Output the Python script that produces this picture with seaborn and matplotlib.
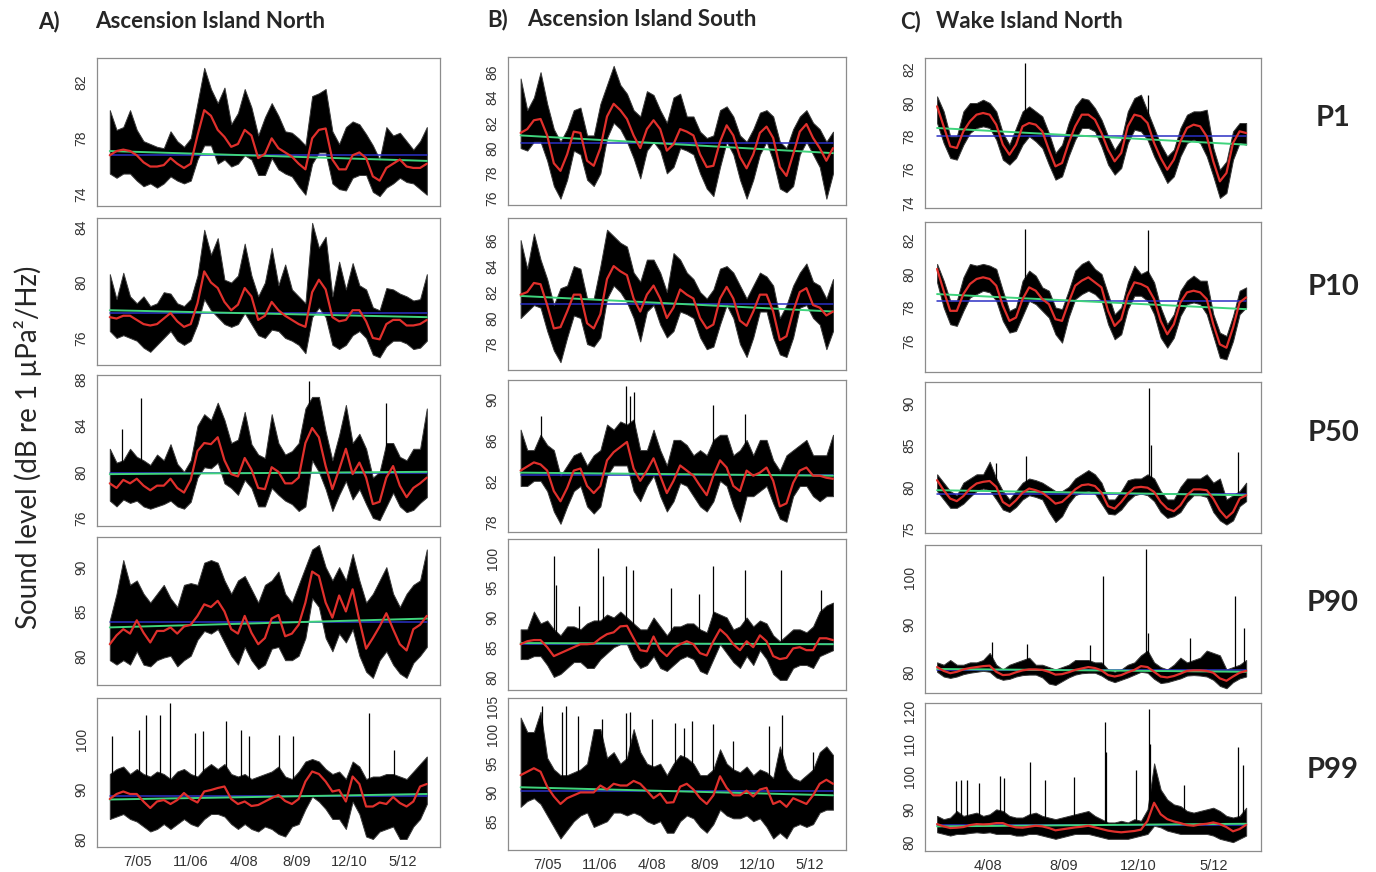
import numpy as np
import matplotlib
matplotlib.use("Agg")
import matplotlib.pyplot as plt
import seaborn as sns

sns.set_style("white")
plt.rcParams["font.family"] = ["Liberation Sans", "DejaVu Sans"]

W, H = 1376, 872

# --- time axes (decimal years) ---
asc_span = (2004.79, 2012.97)
wake_span = (2007.32, 2012.95)
asc_xlim = (2004.46, 2013.31)
wake_xlim = (2007.10, 2013.22)
asc_ticks = [2005.50, 2006.87, 2008.24, 2009.61, 2010.98, 2012.35]
asc_ticklabels = ["7/05", "11/06", "4/08", "8/09", "12/10", "5/12"]
wake_ticks = [2008.25, 2009.62, 2010.98, 2012.35]
wake_ticklabels = ["4/08", "8/09", "12/10", "5/12"]
n_pts = 48

col_titles = ["Ascension Island North", "Ascension Island South", "Wake Island North"]
col_letters = ["A)", "B)", "C)"]
row_names = ["P1", "P10", "P50", "P90", "P99"]

# --- Ascension Island North ---
A1_mid = [76.8, 77.1, 77.2, 77.1, 76.8, 76.3, 76.0, 76.0, 76.1, 76.6,
          76.2, 75.9, 76.2, 78.2, 80.0, 79.6, 78.6, 78.1, 77.4, 77.6,
          78.6, 78.2, 76.6, 76.9, 78.0, 77.3, 77.0, 76.7, 76.2, 75.8,
          78.0, 78.6, 78.7, 76.5, 75.8, 75.8, 76.8, 77.0, 76.6, 75.3,
          75.0, 75.9, 76.2, 76.5, 76.0, 75.9, 75.9, 76.2]
A1_hi = [80.0, 78.6, 78.8, 80.0, 78.6, 77.8, 77.6, 77.4, 77.3, 78.5,
         77.8, 77.4, 78.0, 80.5, 83.0, 81.5, 80.5, 81.6, 79.0, 79.8,
         81.5, 80.2, 78.2, 79.5, 80.5, 79.6, 78.5, 78.4, 78.0, 77.5,
         81.0, 81.2, 81.5, 78.5, 77.6, 78.8, 79.2, 79.0, 78.3, 77.5,
         76.5, 78.8, 78.2, 78.4, 77.8, 77.2, 77.8, 78.8]
A1_lo = [75.5, 75.2, 75.5, 75.5, 75.0, 74.6, 74.8, 74.5, 74.8, 75.3,
         75.0, 74.8, 75.0, 76.5, 77.5, 77.5, 76.2, 76.5, 76.0, 76.2,
         76.8, 76.5, 75.4, 75.4, 76.6, 75.8, 75.5, 75.3, 74.6, 74.0,
         76.2, 77.0, 77.0, 74.8, 74.4, 74.3, 75.2, 75.4, 75.4, 74.2,
         73.9, 74.5, 74.8, 75.2, 74.9, 74.8, 74.4, 74.0]
A1_spk_i, A1_spk_v = [], []
A1_green, A1_blue = [77.1, 76.4], 76.85

A2_mid = [77.5, 77.4, 77.6, 77.6, 77.3, 77.0, 76.9, 77.0, 77.4, 77.8,
          77.2, 76.8, 77.0, 78.5, 80.8, 80.0, 79.6, 78.6, 78.0, 78.4,
          79.6, 79.0, 77.3, 77.6, 78.6, 78.0, 77.6, 77.3, 77.0, 76.8,
          79.3, 80.2, 79.5, 77.5, 77.2, 77.3, 78.0, 78.0, 77.2, 76.0,
          75.9, 77.0, 77.3, 77.3, 76.9, 76.9, 77.0, 77.3]
A2_hi = [80.6, 78.8, 80.7, 79.0, 78.5, 79.0, 78.3, 78.5, 79.3, 79.2,
         78.5, 78.3, 78.8, 80.5, 83.8, 82.0, 83.2, 80.2, 80.0, 80.5,
         82.8, 80.5, 79.0, 80.0, 82.5, 79.8, 81.3, 79.5, 79.0, 78.5,
         84.3, 82.5, 83.3, 79.0, 81.5, 79.5, 81.4, 79.8, 79.5, 78.2,
         78.0, 79.6, 79.5, 79.2, 79.0, 78.7, 78.8, 80.6]
A2_lo = [76.5, 76.0, 76.2, 76.0, 75.8, 75.3, 75.0, 75.5, 76.0, 76.5,
         75.8, 75.5, 75.8, 77.0, 78.8, 78.0, 77.5, 77.0, 76.8, 77.0,
         77.8, 77.0, 76.2, 76.0, 76.6, 76.5, 76.0, 75.8, 75.5, 74.9,
         77.5, 78.2, 77.5, 75.5, 75.2, 75.5, 76.2, 76.5, 76.0, 74.8,
         74.6, 75.4, 75.8, 75.8, 75.6, 75.2, 75.3, 75.8]
A2_spk_i, A2_spk_v = [], []
A2_green, A2_blue = [78.0, 77.5], 77.8

A3_mid = [79.0, 78.6, 79.3, 79.0, 79.4, 78.8, 78.4, 78.8, 78.8, 79.4,
          78.6, 78.2, 79.3, 81.8, 82.5, 82.4, 83.0, 81.0, 79.8, 79.6,
          81.2, 80.2, 78.6, 78.5, 80.4, 80.0, 79.0, 79.0, 79.5, 82.5,
          83.8, 83.0, 80.5, 78.5, 80.2, 82.0, 79.8, 80.8, 79.5, 77.2,
          77.4, 79.5, 80.5, 78.8, 77.8, 78.6, 79.0, 79.5]
A3_hi = [82.0, 80.8, 81.0, 82.0, 81.3, 81.0, 80.6, 81.5, 81.0, 82.4,
         80.7, 80.0, 81.0, 84.0, 85.0, 84.5, 86.0, 84.5, 82.5, 82.8,
         85.2, 82.4, 81.5, 81.2, 85.0, 82.5, 81.5, 81.8, 82.5, 85.5,
         86.5, 86.5, 83.5, 81.0, 83.2, 85.8, 82.5, 83.3, 82.0, 79.5,
         80.0, 82.5, 82.5, 81.3, 81.0, 82.0, 82.0, 85.5]
A3_lo = [77.5, 77.0, 77.6, 77.3, 77.5, 77.0, 76.8, 77.0, 77.2, 77.5,
         77.0, 76.8, 77.4, 79.5, 80.4, 80.3, 80.8, 79.0, 78.6, 78.0,
         79.3, 78.6, 77.0, 77.0, 78.6, 78.0, 77.5, 77.2, 76.6, 77.0,
         81.0, 80.0, 78.5, 76.6, 78.0, 79.2, 77.6, 78.5, 77.2, 76.0,
         75.8, 77.0, 78.2, 77.0, 76.5, 76.7, 77.3, 77.8]
A3_spk_i, A3_spk_v = [1.8, 4.6, 29.6, 41.0], [83.7, 86.4, 87.9, 86.0]
A3_green, A3_blue = [79.8, 80.0], 79.9

A4_mid = [81.3, 82.3, 83.0, 82.5, 84.0, 82.6, 81.5, 82.8, 82.8, 83.2,
          82.5, 83.3, 83.5, 84.5, 85.8, 85.5, 86.2, 85.0, 83.0, 82.5,
          84.5, 82.6, 81.3, 82.0, 84.2, 84.6, 82.2, 82.5, 83.5, 86.0,
          89.5, 89.0, 86.0, 84.3, 86.8, 85.0, 87.5, 84.0, 80.8, 82.0,
          83.3, 84.8, 83.0, 81.3, 80.6, 83.0, 83.5, 84.5]
A4_hi = [84.0, 87.0, 90.8, 88.0, 88.5, 87.0, 86.0, 87.0, 88.0, 86.5,
         85.5, 88.0, 88.2, 88.0, 90.5, 90.8, 90.5, 88.5, 87.0, 88.5,
         89.0, 87.5, 86.0, 88.0, 88.5, 89.5, 87.0, 86.0, 88.0, 90.0,
         92.0, 92.5, 90.0, 88.5, 90.0, 88.5, 91.5, 88.5, 86.0, 87.0,
         88.5, 90.0, 87.0, 85.5, 87.0, 88.0, 88.5, 92.0]
A4_lo = [79.5, 79.0, 79.5, 79.0, 80.5, 79.0, 78.8, 79.5, 79.8, 80.0,
         78.8, 79.5, 80.0, 81.8, 82.8, 82.5, 83.0, 81.5, 80.0, 79.0,
         81.0, 79.5, 78.5, 79.0, 80.8, 81.0, 79.5, 79.5, 80.0, 82.0,
         86.5, 85.5, 82.0, 80.5, 82.5, 81.5, 83.0, 80.0, 78.2, 77.5,
         79.5, 80.5, 79.0, 78.0, 77.5, 79.2, 80.0, 81.0]
A4_spk_i, A4_spk_v = [], []
A4_green, A4_blue = [83.2, 84.2], 83.8

A5_mid = [88.0, 89.0, 89.5, 89.0, 89.0, 87.5, 86.2, 87.5, 87.8, 87.0,
          87.8, 89.2, 88.0, 87.3, 89.5, 89.8, 90.2, 90.5, 88.0, 87.0,
          87.5, 86.6, 86.8, 87.5, 88.2, 88.8, 87.6, 87.0, 88.0, 91.5,
          93.5, 93.0, 91.5, 89.5, 89.8, 87.5, 92.5, 91.0, 86.5, 86.5,
          87.3, 87.0, 88.4, 87.2, 86.5, 87.5, 90.5, 91.0]
A5_hi = [93.0, 94.0, 94.5, 93.0, 94.0, 93.0, 92.5, 93.5, 93.0, 92.0,
         93.5, 94.0, 93.0, 92.5, 94.0, 95.0, 94.0, 95.0, 93.0, 92.5,
         93.0, 92.0, 92.5, 93.0, 93.5, 94.5, 92.5, 92.0, 93.5, 95.5,
         96.0, 95.5, 94.0, 93.0, 93.5, 92.0, 95.5, 94.5, 92.0, 92.5,
         92.5, 93.0, 93.0, 92.5, 92.0, 93.5, 95.0, 96.5]
A5_lo = [84.0, 84.5, 85.0, 84.0, 83.5, 82.5, 81.5, 82.0, 83.0, 82.0,
         83.0, 84.0, 83.0, 82.5, 84.0, 85.0, 85.0, 84.5, 83.0, 82.0,
         83.0, 82.0, 81.5, 82.5, 82.0, 81.0, 80.5, 82.5, 83.0, 86.0,
         88.5, 87.5, 86.0, 84.0, 84.0, 82.0, 87.5, 85.0, 80.5, 80.0,
         81.5, 82.0, 82.5, 80.0, 80.0, 82.5, 84.0, 87.0]
A5_spk_i = [0.4, 4.4, 5.3, 7.5, 8.9, 12.7, 13.8, 17.2, 19.5, 20.6, 25.1, 27.1, 38.4, 42.1]
A5_spk_v = [100.5, 101.8, 104.8, 104.8, 107.2, 101.2, 101.5, 103.5, 101.8, 100.5,
            100.8, 100.5, 105.2, 97.8]
A5_green, A5_blue = [87.9, 89.0], 88.6

# --- Ascension Island South ---
B1_mid = [81.2, 81.5, 82.2, 82.3, 81.0, 78.8, 78.2, 79.5, 81.3, 81.2,
          79.0, 78.6, 80.0, 82.5, 83.5, 83.0, 82.3, 81.0, 80.0, 81.5,
          82.2, 81.5, 79.8, 80.3, 81.5, 81.3, 81.0, 79.5, 78.5, 78.6,
          80.5, 81.8, 81.0, 79.3, 78.4, 79.5, 81.2, 81.7, 80.8, 78.5,
          77.8, 79.5, 81.3, 81.9, 80.8, 80.0, 79.0, 80.0]
B1_hi = [85.5, 83.0, 84.0, 86.0, 83.5, 81.5, 80.5, 81.5, 83.0, 83.2,
         81.0, 81.0, 83.5, 85.0, 86.5, 85.0, 84.3, 83.0, 82.5, 84.5,
         84.2, 83.0, 82.0, 84.0, 84.3, 82.5, 82.5, 81.3, 80.8, 81.0,
         83.0, 83.3, 82.5, 81.0, 80.5, 81.5, 82.8, 83.0, 82.5, 80.5,
         80.0, 81.5, 82.5, 83.0, 82.0, 81.5, 80.5, 81.3]
B1_lo = [80.0, 79.8, 80.5, 80.5, 79.0, 77.0, 76.0, 77.5, 79.8, 79.5,
         77.5, 77.0, 78.0, 80.8, 82.0, 81.5, 80.5, 79.2, 77.6, 79.8,
         80.5, 79.8, 78.0, 78.5, 80.0, 79.8, 79.5, 78.0, 76.8, 76.2,
         78.5, 80.5, 79.5, 77.5, 76.0, 77.5, 79.5, 80.5, 79.0, 76.8,
         76.5, 77.0, 79.5, 80.5, 79.5, 78.5, 76.0, 78.0]
B1_spk_i, B1_spk_v = [], []
B1_green, B1_blue = [81.0, 79.6], 80.4

B2_mid = [81.8, 82.0, 82.7, 82.6, 81.0, 79.2, 79.3, 80.5, 81.8, 81.8,
          79.6, 79.2, 80.3, 83.0, 84.0, 83.6, 83.3, 81.5, 80.5, 81.8,
          82.5, 81.5, 80.0, 80.8, 82.2, 81.8, 81.5, 80.0, 79.2, 79.5,
          81.5, 82.4, 81.5, 79.8, 79.4, 80.5, 81.8, 81.8, 80.5, 78.3,
          78.6, 80.5, 82.0, 82.3, 81.0, 80.8, 80.2, 80.5]
B2_hi = [86.0, 83.8, 86.5, 84.5, 83.0, 81.0, 82.3, 82.5, 84.0, 83.8,
         81.5, 81.5, 84.0, 86.8, 86.3, 85.8, 85.5, 83.5, 82.8, 84.5,
         84.5, 83.5, 82.0, 85.0, 84.5, 83.5, 83.0, 82.0, 81.5, 82.2,
         83.8, 84.0, 83.5, 82.5, 81.5, 82.5, 83.5, 83.2, 82.5, 80.0,
         81.0, 82.5, 83.5, 84.2, 82.8, 82.5, 81.5, 83.0]
B2_lo = [80.0, 80.5, 81.0, 80.8, 79.0, 77.5, 76.6, 78.5, 80.2, 80.0,
         78.0, 77.8, 78.5, 81.5, 82.5, 82.0, 81.2, 80.0, 78.2, 80.5,
         81.0, 79.5, 78.5, 79.0, 80.5, 80.3, 80.0, 78.5, 77.6, 77.8,
         79.5, 81.0, 80.0, 78.0, 77.0, 78.5, 80.5, 80.5, 78.5, 77.2,
         77.0, 78.5, 80.8, 81.0, 80.0, 79.5, 77.6, 79.0]
B2_spk_i, B2_spk_v = [], []
B2_green, B2_blue = [81.7, 80.5], 81.1

B3_mid = [83.0, 83.4, 83.8, 83.6, 83.0, 81.0, 80.0, 81.3, 83.0, 83.2,
          81.5, 80.8, 81.5, 84.0, 84.8, 85.3, 85.8, 83.2, 82.0, 83.0,
          84.2, 82.5, 80.8, 82.0, 83.5, 83.0, 82.5, 81.5, 80.6, 82.5,
          84.0, 83.3, 81.5, 81.0, 83.0, 82.5, 82.8, 83.3, 82.0, 79.5,
          79.8, 81.8, 83.0, 83.3, 82.5, 82.5, 82.3, 82.2]
B3_hi = [87.0, 85.0, 85.0, 86.5, 85.5, 85.0, 82.5, 83.5, 84.5, 84.8,
         83.5, 84.5, 85.0, 87.5, 87.0, 87.8, 87.5, 88.0, 85.0, 85.0,
         87.0, 85.0, 83.5, 86.0, 86.0, 85.5, 84.5, 85.0, 84.5, 86.0,
         86.5, 86.5, 84.5, 85.0, 86.0, 84.5, 86.0, 86.0, 84.0, 83.0,
         84.5, 85.0, 85.5, 86.0, 84.5, 84.5, 84.5, 86.5]
B3_lo = [81.5, 81.5, 82.0, 82.0, 81.0, 79.0, 77.8, 79.5, 81.0, 81.5,
         79.5, 78.8, 79.5, 82.5, 83.5, 83.5, 83.5, 81.0, 80.0, 81.5,
         82.5, 80.5, 79.0, 80.0, 81.8, 81.5, 80.5, 79.5, 79.0, 80.0,
         82.0, 81.5, 79.5, 78.0, 80.5, 80.5, 81.0, 81.5, 79.8, 78.3,
         78.0, 80.5, 81.5, 81.5, 80.5, 80.0, 80.5, 80.5]
B3_spk_i, B3_spk_v = [3.0, 15.8, 16.4, 17.0, 29.0, 33.8], [88.3, 91.3, 90.3, 90.7, 89.4, 88.5]
B3_green, B3_blue = [82.8, 82.5], 82.6

B4_mid = [85.5, 86.0, 86.2, 86.2, 85.0, 83.5, 84.0, 84.5, 85.0, 85.5,
          85.5, 85.6, 86.5, 87.2, 87.5, 88.5, 88.6, 86.5, 84.5, 84.3,
          86.8, 84.5, 83.5, 84.8, 85.5, 86.0, 85.5, 84.0, 83.6, 86.0,
          88.0, 87.0, 85.5, 84.5, 86.0, 85.0, 87.0, 86.0, 83.5, 83.0,
          83.2, 84.8, 85.0, 84.5, 84.5, 86.5, 86.5, 86.2]
B4_hi = [88.0, 88.0, 91.0, 89.0, 89.5, 88.0, 87.0, 88.5, 88.5, 88.0,
         89.0, 89.5, 89.5, 90.5, 90.0, 91.0, 90.0, 89.0, 88.0, 88.0,
         90.0, 88.5, 87.0, 88.5, 88.5, 89.0, 89.0, 88.0, 87.5, 91.0,
         90.5, 90.0, 88.0, 88.5, 90.0, 88.5, 89.5, 89.0, 87.0, 86.0,
         87.0, 88.0, 88.0, 87.5, 88.5, 91.0, 92.0, 92.5]
B4_lo = [83.0, 83.0, 83.5, 83.5, 82.0, 80.0, 80.5, 81.5, 82.5, 82.5,
         81.5, 81.5, 83.0, 84.0, 85.0, 85.5, 85.5, 83.0, 81.5, 82.0,
         83.5, 81.5, 81.0, 82.0, 83.0, 83.5, 83.0, 81.0, 80.5, 83.0,
         85.5, 84.0, 82.5, 81.5, 83.5, 82.0, 84.5, 83.0, 80.5, 79.5,
         79.5, 81.5, 82.0, 82.0, 81.5, 83.5, 84.0, 84.5]
B4_spk_i = [5.0, 5.4, 8.8, 11.6, 12.4, 15.8, 16.9, 22.6, 26.9, 28.9, 33.8, 39.2, 45.2]
B4_spk_v = [100.3, 95.5, 92.0, 101.7, 97.0, 98.7, 98.0, 94.9, 93.9, 98.6, 98.0, 98.0, 94.7]
B4_green, B4_blue = [85.7, 85.5], 85.5

B5_mid = [93.0, 93.6, 94.2, 93.6, 91.0, 89.3, 88.0, 89.0, 89.5, 90.0,
          90.0, 90.0, 91.2, 90.5, 91.5, 91.2, 91.2, 92.0, 91.5, 90.3,
          89.0, 89.8, 88.2, 88.3, 91.0, 91.5, 90.5, 89.0, 88.0, 89.5,
          92.8, 90.8, 89.5, 89.5, 90.3, 89.3, 90.5, 90.8, 88.0, 88.5,
          87.5, 89.0, 88.5, 88.0, 89.5, 91.5, 92.2, 91.5]
B5_hi = [103.0, 100.5, 100.5, 104.0, 96.0, 94.0, 93.0, 93.0, 93.5, 94.0,
         95.0, 101.0, 101.0, 96.0, 97.0, 95.0, 96.0, 101.0, 97.0, 95.0,
         94.5, 95.0, 93.0, 95.0, 96.5, 96.0, 95.0, 93.0, 93.0, 94.0,
         97.5, 95.0, 94.0, 93.5, 94.5, 93.0, 94.0, 93.5, 92.5, 98.0,
         94.0, 92.5, 92.0, 93.0, 94.0, 97.0, 98.0, 96.5]
B5_lo = [87.5, 88.5, 89.0, 88.0, 86.0, 84.0, 82.0, 83.5, 85.0, 86.0,
         86.5, 84.0, 84.5, 85.0, 86.5, 86.5, 86.0, 86.5, 86.0, 85.0,
         84.5, 85.0, 83.0, 83.0, 85.0, 86.0, 85.5, 84.0, 83.0, 84.5,
         87.0, 86.0, 85.5, 85.5, 86.0, 85.0, 85.5, 84.0, 82.0, 83.0,
         82.0, 84.0, 84.5, 84.0, 84.5, 86.5, 87.0, 87.0]
B5_spk_i = [3.2, 6.2, 6.9, 8.7, 12.2, 15.8, 16.5, 19.8, 23.3, 24.6, 25.8, 28.9, 31.9, 37.4, 39.4, 44.0]
B5_spk_v = [105.0, 104.0, 105.0, 103.3, 102.7, 103.8, 104.0, 102.7, 102.0, 101.2,
            102.4, 101.8, 99.0, 101.5, 103.5, 97.0]
B5_green, B5_blue = [90.9, 89.5], 90.3

# --- Wake Island North ---
C1_mid = [79.8, 78.6, 77.4, 77.3, 78.3, 78.9, 79.3, 79.4, 79.3, 78.7,
          77.5, 76.9, 77.5, 78.6, 78.8, 78.7, 78.3, 77.2, 76.2, 76.4,
          77.6, 78.6, 79.3, 79.3, 79.0, 78.2, 77.2, 76.5, 77.0, 78.6,
          79.3, 79.2, 78.8, 77.6, 76.7, 76.0, 76.6, 77.7, 78.5, 78.7,
          78.6, 78.0, 76.5, 75.3, 75.8, 77.6, 78.3, 78.2]
C1_hi = [80.4, 79.5, 78.0, 78.0, 79.5, 80.0, 80.0, 80.2, 80.0, 79.5,
         78.2, 77.5, 78.5, 79.5, 79.8, 79.5, 79.2, 78.2, 77.0, 77.5,
         78.8, 79.8, 80.3, 80.2, 79.7, 79.0, 78.0, 77.2, 77.8, 79.5,
         80.3, 80.5, 79.5, 78.5, 77.5, 76.8, 77.2, 78.5, 79.3, 79.5,
         79.5, 79.6, 77.3, 76.0, 76.5, 78.3, 78.8, 78.8]
C1_lo = [78.8, 77.6, 76.7, 76.6, 77.5, 78.2, 78.5, 78.6, 78.5, 77.8,
         76.6, 76.3, 76.7, 77.5, 78.0, 77.7, 77.3, 76.3, 75.4, 75.6,
         76.8, 77.8, 78.5, 78.5, 78.3, 77.4, 76.3, 75.7, 76.1, 77.6,
         78.4, 78.3, 77.8, 76.8, 76.0, 75.2, 75.6, 76.8, 77.6, 77.8,
         77.6, 76.8, 75.6, 74.3, 74.6, 76.6, 77.6, 77.5]
C1_spk_i, C1_spk_v = [13.3, 32.0], [82.4, 80.5]
C1_green, C1_blue = [78.5, 77.5], 78.0

C2_mid = [80.3, 79.0, 77.8, 77.8, 78.8, 79.4, 79.7, 79.8, 79.7, 79.3,
          78.1, 77.2, 77.4, 78.5, 79.2, 79.0, 78.5, 78.2, 77.3, 77.2,
          78.3, 79.3, 79.6, 79.8, 79.5, 79.2, 77.8, 76.9, 77.3, 78.7,
          79.5, 79.4, 79.2, 78.5, 77.2, 76.4, 77.0, 78.3, 78.9, 79.0,
          78.9, 78.5, 77.0, 75.8, 75.6, 76.8, 78.3, 78.6]
C2_hi = [80.6, 79.6, 78.4, 78.4, 79.8, 80.6, 80.5, 80.6, 80.5, 80.3,
         79.0, 77.8, 78.0, 79.6, 80.2, 79.9, 79.2, 79.0, 78.0, 77.9,
         79.0, 80.2, 80.6, 80.8, 80.3, 80.0, 78.8, 77.6, 78.0, 79.5,
         80.5, 80.0, 80.2, 79.5, 78.0, 77.0, 77.6, 79.0, 79.6, 79.9,
         79.6, 79.6, 77.6, 76.5, 76.3, 77.5, 79.0, 79.2]
C2_lo = [79.5, 78.0, 77.0, 76.9, 77.8, 78.6, 78.8, 79.0, 78.9, 78.4,
         77.2, 76.5, 76.6, 77.5, 78.4, 78.2, 77.8, 77.4, 76.4, 75.9,
         77.4, 78.5, 78.8, 79.0, 78.8, 78.4, 77.0, 76.1, 76.4, 77.9,
         78.7, 78.7, 78.4, 77.6, 76.2, 75.6, 76.2, 77.5, 78.2, 78.3,
         78.2, 77.6, 76.3, 75.0, 74.9, 76.0, 77.6, 78.0]
C2_spk_i, C2_spk_v = [13.4, 32.1], [82.7, 82.6]
C2_green, C2_blue = [78.8, 77.9], 78.4

C3_mid = [80.8, 79.6, 78.6, 78.3, 78.9, 79.8, 80.4, 80.6, 80.7, 80.0,
          78.2, 77.7, 78.4, 79.3, 79.8, 79.6, 79.3, 78.7, 78.0, 78.2,
          78.9, 79.7, 80.2, 80.3, 80.1, 79.3, 77.7, 77.4, 78.2, 79.2,
          79.9, 80.0, 79.9, 79.4, 78.2, 77.4, 77.1, 77.8, 79.0, 79.7,
          79.7, 79.6, 78.6, 77.2, 76.3, 77.0, 78.6, 79.0]
C3_hi = [81.5, 80.5, 79.5, 79.0, 80.5, 81.0, 81.5, 81.5, 83.0, 81.0,
         79.5, 78.5, 79.5, 80.5, 81.0, 80.8, 80.5, 80.0, 79.5, 79.5,
         80.0, 81.0, 81.5, 82.0, 81.5, 80.5, 78.5, 78.5, 79.5, 80.8,
         81.0, 81.0, 81.5, 81.0, 79.5, 78.5, 78.5, 80.0, 81.0, 81.0,
         81.0, 81.5, 80.5, 81.0, 78.5, 79.0, 79.5, 80.5]
C3_lo = [79.5, 78.5, 77.5, 77.5, 78.0, 78.8, 79.5, 79.8, 79.6, 78.5,
         77.3, 77.0, 77.6, 78.5, 79.0, 78.8, 78.5, 77.0, 75.8, 76.5,
         78.0, 79.0, 79.3, 79.5, 79.2, 78.0, 76.8, 76.7, 77.3, 78.3,
         79.0, 79.2, 79.0, 78.3, 77.0, 76.3, 76.5, 77.0, 78.2, 79.0,
         79.0, 78.8, 77.0, 76.0, 75.5, 76.0, 77.7, 78.3]
C3_spk_i, C3_spk_v = [8.9, 13.5, 32.2, 32.5, 45.7], [82.9, 83.7, 91.8, 85.0, 84.2]
C3_green, C3_blue = [79.6, 79.0], 79.2

C4_mid = [81.0, 80.2, 79.7, 80.0, 80.5, 80.8, 81.0, 81.2, 81.3, 80.0,
          79.3, 79.4, 79.9, 80.3, 80.5, 80.5, 80.4, 80.0, 79.4, 79.5,
          79.9, 80.4, 80.7, 81.0, 80.8, 80.3, 79.3, 79.0, 79.3, 79.9,
          80.4, 81.2, 81.0, 80.0, 79.0, 78.8, 79.1, 79.6, 80.2, 80.3,
          80.3, 80.2, 79.8, 78.6, 78.1, 79.0, 79.8, 80.2]
C4_hi = [82.0, 81.5, 82.5, 81.5, 81.5, 82.0, 82.0, 82.5, 84.0, 81.5,
         80.5, 81.5, 82.0, 82.5, 83.0, 81.5, 81.5, 81.0, 80.5, 81.0,
         81.5, 82.5, 82.5, 82.5, 82.0, 82.0, 80.5, 80.0, 80.5, 81.5,
         82.0, 83.5, 84.5, 82.0, 81.0, 80.5, 81.5, 83.0, 82.0, 82.5,
         83.0, 84.5, 84.0, 83.5, 80.5, 81.0, 81.5, 82.5]
C4_lo = [80.0, 79.0, 78.7, 79.0, 79.5, 79.8, 80.0, 80.2, 80.0, 78.8,
         78.3, 78.5, 79.0, 79.3, 79.4, 79.4, 78.8, 77.5, 77.2, 78.0,
         78.8, 79.4, 79.7, 79.8, 79.8, 79.2, 78.3, 77.8, 78.3, 78.8,
         79.4, 80.0, 79.8, 78.5, 77.6, 77.8, 78.2, 78.6, 79.2, 79.3,
         79.2, 79.0, 78.3, 77.0, 76.5, 77.8, 78.6, 79.0]
C4_spk_i = [8.4, 13.7, 23.3, 25.3, 31.7, 32.0, 38.5, 45.3, 46.6]
C4_spk_v = [86.4, 86.0, 85.7, 100.4, 106.1, 88.2, 87.1, 96.1, 89.3]
C4_green, C4_blue = [80.6, 80.0], 80.3

C5_mid = [85.5, 84.8, 84.3, 84.4, 84.6, 85.2, 85.5, 85.4, 85.5, 85.8,
          85.8, 85.0, 84.5, 84.4, 84.7, 85.0, 84.8, 84.3, 83.6, 83.9,
          84.2, 84.5, 84.7, 85.0, 84.5, 84.0, 83.5, 83.2, 83.0, 83.2,
          83.4, 83.8, 86.5, 92.0, 88.5, 87.0, 86.3, 85.8, 85.2, 85.0,
          85.4, 85.6, 86.0, 85.5, 84.6, 83.3, 84.0, 85.3]
C5_hi = [88.0, 87.0, 87.5, 89.5, 88.0, 88.5, 89.0, 88.0, 88.5, 90.0,
         89.5, 88.0, 87.5, 87.5, 88.5, 89.0, 88.0, 87.5, 87.0, 87.5,
         88.0, 88.5, 89.0, 89.5, 88.0, 87.0, 86.0, 86.0, 86.5, 86.0,
         87.0, 86.5, 90.0, 104.0, 96.0, 93.0, 91.5, 91.0, 89.5, 89.0,
         89.5, 90.0, 90.5, 89.5, 88.0, 87.5, 88.0, 90.5]
C5_lo = [83.0, 82.5, 82.0, 82.5, 82.5, 82.8, 83.0, 82.8, 83.0, 82.5,
         82.5, 82.5, 82.0, 82.0, 82.5, 82.5, 82.0, 81.5, 81.0, 81.5,
         82.0, 82.5, 82.5, 82.5, 82.0, 81.5, 81.0, 81.0, 81.0, 81.0,
         81.5, 82.0, 82.5, 85.0, 84.5, 83.5, 83.0, 82.5, 82.5, 82.5,
         82.5, 82.5, 82.0, 81.0, 80.5, 80.0, 81.0, 82.0]
C5_spk_i = [2.95, 3.7, 4.5, 6.3, 9.6, 10.1, 14.2, 16.4, 20.8, 25.6, 25.7, 30.2,
            32.2, 32.4, 37.6, 45.7, 46.5]
C5_spk_v = [98.5, 99.0, 99.0, 98.0, 100.3, 99.5, 104.3, 99.0, 99.8, 116.6, 107.6, 102.0,
            120.5, 110.0, 97.5, 109.1, 103.6]
C5_green, C5_blue = [84.8, 85.6], 85.2

# y-axis limits and ticks per panel (labels left blank where R dropped them)
A_ylims = [(73.2, 83.7), (74.05, 84.65), (75.3, 88.4), (76.7, 93.4), (78.4, 108.2)]
A_yticks = [[74, 76, 78, 80, 82], [76, 78, 80, 82, 84], [76, 78, 80, 82, 84, 86, 88],
            [80, 85, 90], [80, 85, 90, 95, 100, 105]]
A_ylabels = [["74", "", "78", "", "82"], ["76", "", "80", "", "84"],
             ["76", "", "80", "", "84", "", "88"], ["80", "85", "90"],
             ["80", "", "90", "", "100", ""]]
B_ylims = [(75.5, 87.2), (76.0, 87.7), (77.0, 91.85), (77.8, 103.2), (80.0, 106.4)]
B_yticks = [[76, 78, 80, 82, 84, 86], [78, 80, 82, 84, 86], [78, 80, 82, 84, 86, 88, 90],
            [80, 85, 90, 95, 100], [85, 90, 95, 100, 105]]
B_ylabels = [["76", "78", "80", "82", "84", "86"], ["78", "80", "82", "84", "86"],
             ["78", "", "82", "", "86", "", "90"], ["80", "85", "90", "95", "100"],
             ["85", "90", "95", "100", "105"]]
C_ylims = [(73.7, 82.7), (74.15, 83.1), (74.5, 92.5), (75.5, 106.9), (77.3, 122.4)]
C_yticks = [[74, 76, 78, 80, 82], [76, 78, 80, 82], [75, 80, 85, 90],
            [80, 85, 90, 95, 100, 105], [80, 90, 100, 110, 120]]
C_ylabels = [["74", "76", "78", "80", "82"], ["76", "78", "80", "82"],
             ["75", "80", "85", "90"], ["80", "", "90", "", "100", ""],
             ["80", "90", "100", "110", "120"]]

# panel boxes in pixels: (left, top, right, bottom)
A_boxes = [(97, 58, 440, 206), (97, 218, 440, 365), (97, 375, 440, 526),
           (97, 537, 440, 685), (97, 698, 440, 847)]
B_boxes = [(508, 57, 846, 205), (508, 218, 846, 370), (508, 380, 846, 532),
           (508, 539, 846, 690), (508, 698, 846, 850)]
C_boxes = [(925, 58, 1261, 208), (925, 222, 1261, 372), (925, 382, 1261, 533),
           (925, 545, 1261, 693), (925, 703, 1261, 851)]

RED = "#e0302c"
GREEN = "#3fd47c"
BLUE = "#2b2fc4"
FRAME = "#8c8c8c"
TXT = "#333333"

fig = plt.figure(figsize=(W / 100, H / 100), dpi=100)


def add_px_axes(box):
    l, t, r, b = box
    return fig.add_axes([l / W, 1 - b / H, (r - l) / W, (b - t) / H])


def draw_panel(ax, t, mid, hi, lo, spk_i, spk_v, green, blue):
    idx = np.arange(len(t))
    # dense daily record shown as its spread around each sample
    ax.fill_between(t, lo, hi, color="black", edgecolor="#3a3a3a", lw=0.7)
    if spk_i:
        st = np.interp(spk_i, idx, t)
        base = np.interp(spk_i, idx, mid)
        ax.vlines(st, base, spk_v, color="black", lw=0.9)
    ends = [t[0], t[-1]]
    sns.lineplot(x=ends, y=[blue, blue], color=BLUE, lw=1.1, ax=ax)
    sns.lineplot(x=ends, y=green, color=GREEN, lw=1.4, ax=ax)
    sns.lineplot(x=t, y=mid, color=RED, lw=1.6, ax=ax)


columns = [
    dict(span=asc_span, xlim=asc_xlim, xt=asc_ticks, xtl=asc_ticklabels,
         boxes=A_boxes, ylims=A_ylims, yticks=A_yticks, ylabels=A_ylabels,
         panels=[(A1_mid, A1_hi, A1_lo, A1_spk_i, A1_spk_v, A1_green, A1_blue),
                 (A2_mid, A2_hi, A2_lo, A2_spk_i, A2_spk_v, A2_green, A2_blue),
                 (A3_mid, A3_hi, A3_lo, A3_spk_i, A3_spk_v, A3_green, A3_blue),
                 (A4_mid, A4_hi, A4_lo, A4_spk_i, A4_spk_v, A4_green, A4_blue),
                 (A5_mid, A5_hi, A5_lo, A5_spk_i, A5_spk_v, A5_green, A5_blue)]),
    dict(span=asc_span, xlim=asc_xlim, xt=asc_ticks, xtl=asc_ticklabels,
         boxes=B_boxes, ylims=B_ylims, yticks=B_yticks, ylabels=B_ylabels,
         panels=[(B1_mid, B1_hi, B1_lo, B1_spk_i, B1_spk_v, B1_green, B1_blue),
                 (B2_mid, B2_hi, B2_lo, B2_spk_i, B2_spk_v, B2_green, B2_blue),
                 (B3_mid, B3_hi, B3_lo, B3_spk_i, B3_spk_v, B3_green, B3_blue),
                 (B4_mid, B4_hi, B4_lo, B4_spk_i, B4_spk_v, B4_green, B4_blue),
                 (B5_mid, B5_hi, B5_lo, B5_spk_i, B5_spk_v, B5_green, B5_blue)]),
    dict(span=wake_span, xlim=wake_xlim, xt=wake_ticks, xtl=wake_ticklabels,
         boxes=C_boxes, ylims=C_ylims, yticks=C_yticks, ylabels=C_ylabels,
         panels=[(C1_mid, C1_hi, C1_lo, C1_spk_i, C1_spk_v, C1_green, C1_blue),
                 (C2_mid, C2_hi, C2_lo, C2_spk_i, C2_spk_v, C2_green, C2_blue),
                 (C3_mid, C3_hi, C3_lo, C3_spk_i, C3_spk_v, C3_green, C3_blue),
                 (C4_mid, C4_hi, C4_lo, C4_spk_i, C4_spk_v, C4_green, C4_blue),
                 (C5_mid, C5_hi, C5_lo, C5_spk_i, C5_spk_v, C5_green, C5_blue)]),
]

for col in columns:
    t = np.linspace(col["span"][0], col["span"][1], n_pts)
    for r, panel in enumerate(col["panels"]):
        ax = add_px_axes(col["boxes"][r])
        draw_panel(ax, t, *panel)
        ax.set_xlim(col["xlim"])
        ax.set_ylim(col["ylims"][r])
        ax.set_xticks(col["xt"])
        if r == 4:
            ax.set_xticklabels(col["xtl"], fontsize=10.5, color=TXT)
        else:
            ax.set_xticklabels([])
        ax.set_yticks(col["yticks"][r])
        ax.set_yticklabels(col["ylabels"][r], rotation=90, va="center",
                           fontsize=10, color=TXT)
        ax.tick_params(direction="out", length=4, width=0.8, color=FRAME, pad=2)
        ax.set_xlabel("")
        ax.set_ylabel("")
        for sp in ax.spines.values():
            sp.set_color(FRAME)
            sp.set_linewidth(0.9)

# headings
head_font = ["Lato", "DejaVu Sans"]
letter_pos = [(38, 22), (487, 20), (900, 22)]
title_pos = [(95, 22), (527, 20), (936, 22)]
for (lx, ly), (tx, ty), letter, title in zip(letter_pos, title_pos, col_letters, col_titles):
    fig.text(lx / W, 1 - ly / H, letter, fontsize=16, fontweight="bold",
             family=head_font, va="center", ha="left")
    fig.text(tx / W, 1 - ty / H, title, fontsize=16, fontweight="bold",
             family=head_font, va="center", ha="left")

row_label_y = [118, 287, 433, 603, 770]
for name, yy in zip(row_names, row_label_y):
    fig.text(1333 / W, 1 - yy / H, name, fontsize=21, fontweight="bold",
             family=head_font, va="center", ha="center")

fig.text(28 / W, 1 - 447 / H, "Sound level (dB re 1 \u00b5Pa\u00b2/Hz)", rotation=90,
         fontsize=20, family=head_font, va="center", ha="center")

fig.savefig("out.png", dpi=100)
